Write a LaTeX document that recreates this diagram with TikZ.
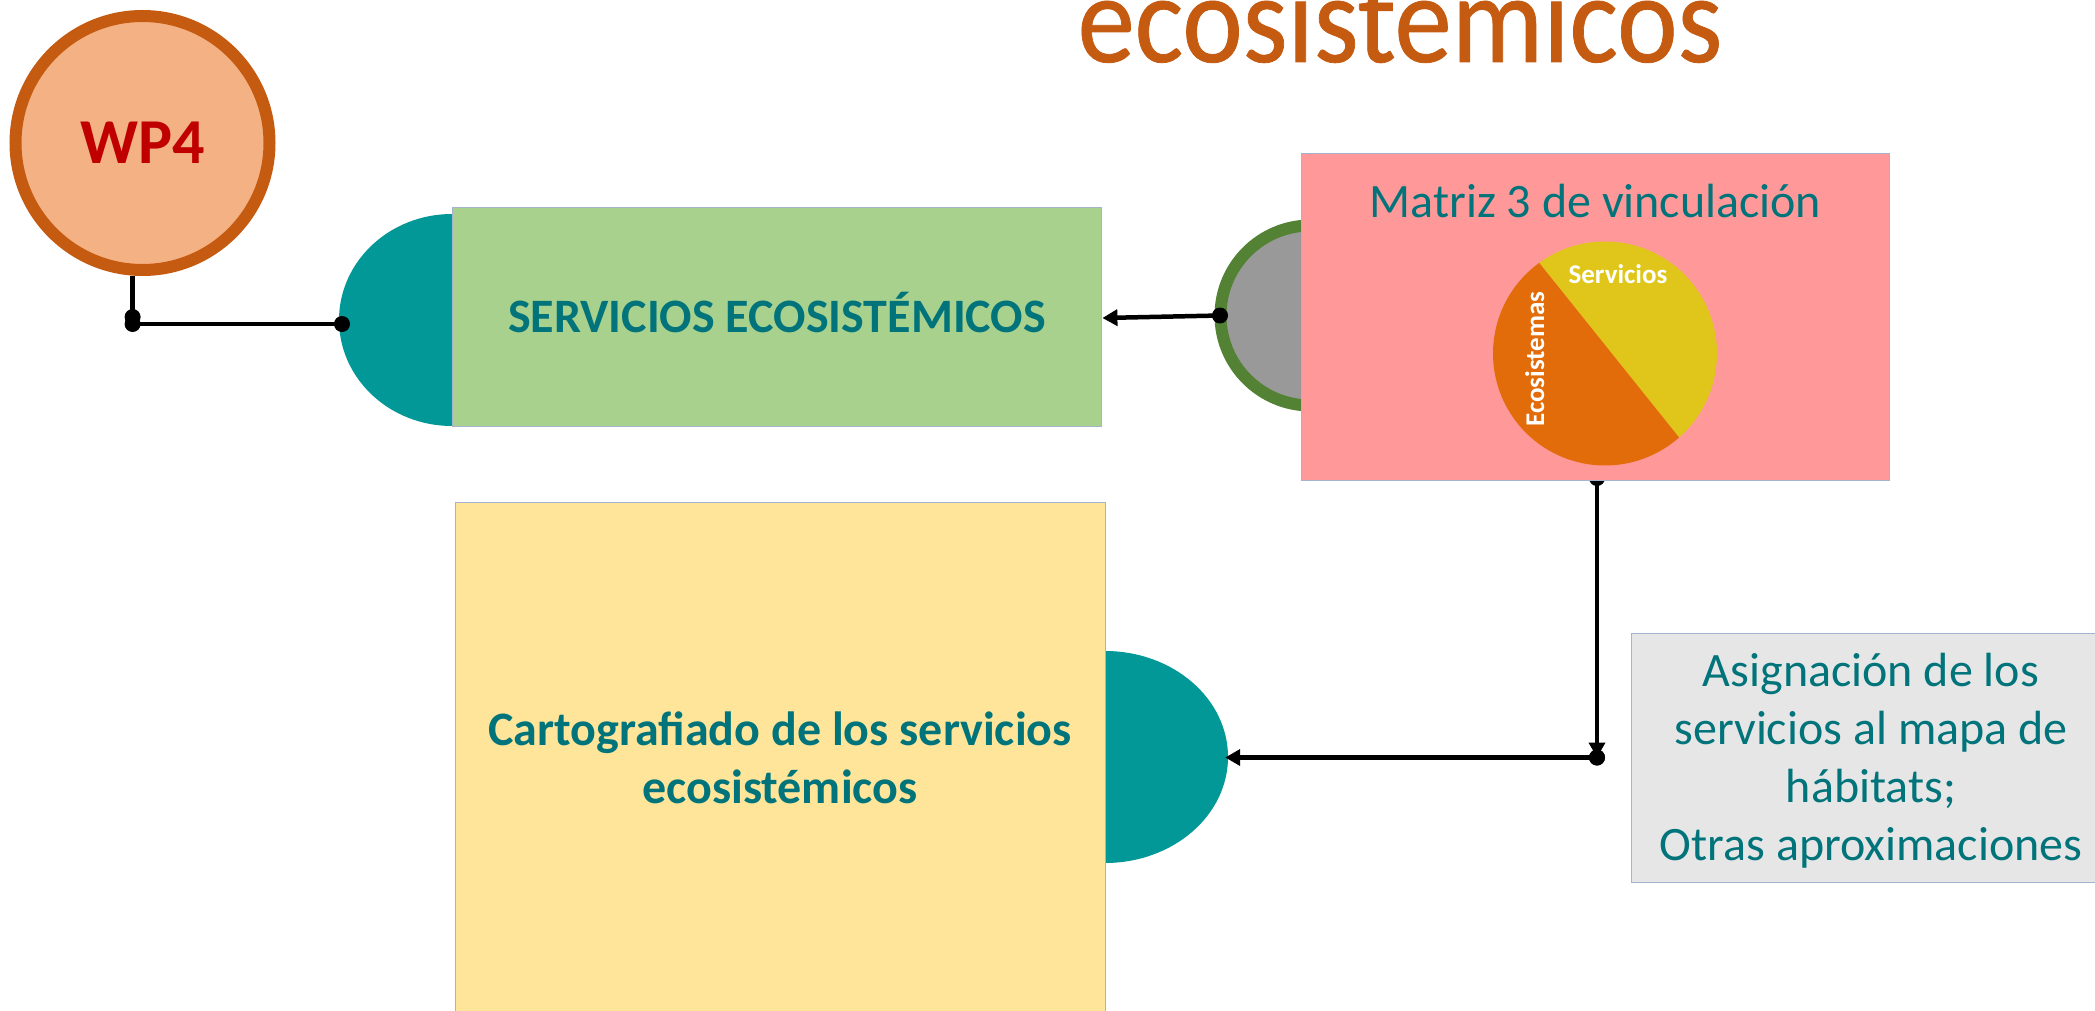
\documentclass[tikz,border=0pt]{standalone}
\usepackage{fontspec}
\setmainfont{Carlito}
\newfontfamily\titlefont[FakeBold=0.6]{Carlito}
\usetikzlibrary{arrows.meta,shapes.geometric}
\definecolor{tealtxt}{HTML}{00747A}
\definecolor{tealfill}{HTML}{029898}
\definecolor{rust}{HTML}{C55A11}
\definecolor{peach}{HTML}{F4B183}
\definecolor{wpred}{HTML}{C00000}
\definecolor{greenbox}{HTML}{A9D18E}
\definecolor{pinkbox}{HTML}{FF9999}
\definecolor{yellowbox}{HTML}{FEE599}
\definecolor{greybox}{HTML}{E6E6E6}
\definecolor{edgeblue}{HTML}{A5B3CE}
\definecolor{ringgreen}{HTML}{548235}
\definecolor{ringgrey}{HTML}{999999}
\definecolor{pieyellow}{HTML}{E0C61A}
\definecolor{pieorange}{HTML}{E36C0A}
\tikzset{
  box/.style={draw=edgeblue,line width=1.4pt,rectangle,inner sep=0pt,anchor=north west},
  dot/.style={circle,fill=black,draw=none,minimum size=16pt,inner sep=0pt},
  halfdisc/.style={ellipse,fill=tealfill,draw=none,inner sep=0pt},
  link/.style={draw=black,line width=4.5pt},
  arrowlink/.style={link,-{Triangle[length=15pt,width=16pt]}},
  boxtext/.style={text=tealtxt,font=\fontsize{48}{48}\selectfont,anchor=base,inner sep=0pt},
  boldtext/.style={text=tealtxt,font=\fontsize{48}{48}\selectfont\bfseries,anchor=base,inner sep=0pt},
  pietext/.style={text=white,font=\fontsize{27}{27}\selectfont\bfseries,inner sep=0pt}
}
\begin{document}
\begin{tikzpicture}[x=1pt,y=-1pt]
\useasboundingbox (0,0) rectangle (2095,1011);
\clip (0,0) rectangle (2095,1011);
\fill[white] (0,0) rectangle (2095,1011);

% title
\node[text=rust,font=\fontsize{126}{126}\selectfont\titlefont,anchor=base,inner sep=0pt,xscale=0.91] (title) at (1400,62) {ecosistemicos};

% WP4
\node[dot] (dwpa) at (132.6,317) {};
\node[dot] (dwpb) at (132.6,324) {};
\node[circle,draw=rust,line width=12pt,fill=peach,minimum size=254pt,inner sep=0pt] (wp) at (142.5,143) {};
\node[text=wpred,font=\fontsize{64}{64}\selectfont\bfseries,anchor=base,inner sep=0pt] (wptext) at (143,164) {WP4};
\draw[link] (dwpa |- wp.south) -- (dwpa.center);

% services
\node[halfdisc,minimum width=226pt,minimum height=212pt] (tealtop) at (452,320) {};
\node[dot] (dteal) at (342,324) {};
\draw[link] (dwpb.center) -- (dteal.center);
\node[box,fill=greenbox,minimum width=649pt,minimum height=219pt] (services) at (452,207) {};
\node[boldtext] (servicestext) at (777,332.7) {SERVICIOS ECOSISTÉMICOS};

% grey ring
\node[circle,draw=ringgreen,line width=12pt,fill=ringgrey,minimum size=180pt,inner sep=0pt] (ring) at (1310.5,315.5) {};
\node[dot] (dring) at (1220,315.5) {};
\draw[arrowlink] (dring.center) -- (services.east |- 0,318);

% vertical connector
\node[dot] (dmatrix) at (1597,478) {};
\node[halfdisc,minimum width=246pt,minimum height=212pt] (tealbot) at (1105,757) {};
\node[dot] (djoin) at (1597,757.5) {};
\draw[arrowlink] (dmatrix.center) -- (djoin.center);
\draw[arrowlink,shorten >=-3pt] (djoin.center) -- (djoin.center -| tealbot.east);
\node[dot] at (djoin.center) {};

% matrix
\node[box,fill=pinkbox,minimum width=588pt,minimum height=327pt] (matrix) at (1301,153) {};
\node[boxtext] (matrixtext) at (1595.5,217) {Matriz 3 de vinculación};
\coordinate (piec) at (1605,353.5);
\fill[pieyellow] (piec) ++(126:112pt) arc[start angle=126,end angle=-48.6,radius=112pt] -- cycle;
\fill[pieorange] (piec) ++(126:112pt) arc[start angle=126,end angle=311.4,radius=112pt] -- cycle;
\node[pietext,anchor=base] (piea) at (1618,283) {Servicios};
\node[pietext,anchor=base,rotate=90] (pieb) at (1544,359) {Ecosistemas};

% map box
\node[box,fill=yellowbox,minimum width=649.5pt,minimum height=560pt] (map) at (455,502) {};
\node[boldtext] (maptexta) at (780,745) {Cartografiado de los servicios};
\node[boldtext] (maptextb) at (780,803) {ecosistémicos};

% grey note
\node[box,fill=greybox,minimum width=480pt,minimum height=249pt] (note) at (1631,633) {};
\node[boxtext] (notea) at (1871,686) {Asignación de los};
\node[boxtext] (noteb) at (1871,744.5) {servicios al mapa de};
\node[boxtext] (notec) at (1871,802) {hábitats;};
\node[boxtext] (noted) at (1871,860) {Otras aproximaciones};
\end{tikzpicture}
\end{document}
